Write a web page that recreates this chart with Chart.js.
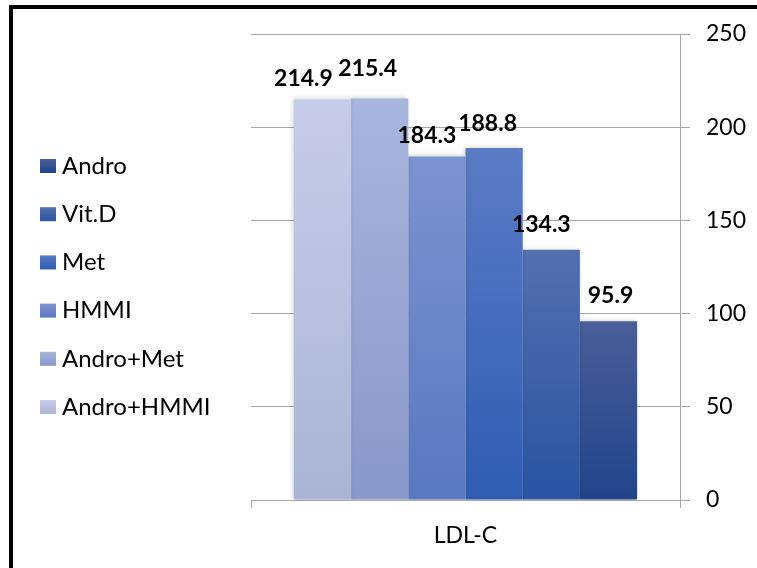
<!DOCTYPE html>
<html>
<head>
<meta charset="utf-8">
<script src="https://cdn.jsdelivr.net/npm/chart.js@4.4.1/dist/chart.umd.min.js"></script>
<style>
  html, body { margin: 0; padding: 0; background: #ffffff; }
  #wrap { position: relative; width: 757px; height: 568px; overflow: hidden; background: #fff; }
  #c { position: absolute; left: 0; top: 0; }
  #frame { position: absolute; left: 9px; top: 5px; width: 780px; height: 559px; border: 4px solid #000; box-sizing: content-box; pointer-events: none; }
</style>
</head>
<body>
<div id="wrap">
  <canvas id="c" width="757" height="568"></canvas>
  <div id="frame"></div>
</div>
<script>
// ---- data (legend order, top to bottom) ----
const categories = ['LDL-C'];
const seriesNames = ['Andro', 'Vit.D', 'Met', 'HMMI', 'Andro+Met', 'Andro+HMMI'];
const seriesValues = [95.9, 134.3, 188.8, 184.3, 215.4, 214.9];
const yTickValues = [0, 50, 100, 150, 200, 250];

// ---- styling (same order as seriesNames) ----
const topColors    = ['#4a5e98', '#546fae', '#5b7bc5', '#7b93d0', '#a8b5dd', '#c7cde8'];
const bottomColors = ['#21448a', '#2954a1', '#2e5db2', '#5a78c0', '#8898c9', '#aab4d4'];
const labelNudgeX  = [2, -10, -6.5, -10, -12, -19];
const labelGapY    = [18, 18, 17, 13, 22, 13];
const FONT = 'Lato, "Open Sans", "Liberation Sans", sans-serif';
const gridGray = '#a6a6a6';

function barGradient(ctx, i) {
  const chart = ctx.chart;
  const y = chart.scales && chart.scales.y;
  if (!chart.chartArea || !y) return topColors[i];
  const top = y.getPixelForValue(seriesValues[i]);
  const bot = y.getPixelForValue(0);
  const g = chart.ctx.createLinearGradient(0, top, 0, bot);
  g.addColorStop(0, topColors[i]);
  g.addColorStop(1, bottomColors[i]);
  return g;
}

// bars are drawn right-to-left in legend order (Excel reversed series order)
const drawOrder = seriesNames.map((_, i) => i).reverse();
const datasets = drawOrder.map((i) => ({
  label: seriesNames[i],
  data: [seriesValues[i]],
  seriesIndex: i,
  backgroundColor: (ctx) => barGradient(ctx, i),
  borderWidth: 0,
  barPercentage: 1.0,
  categoryPercentage: 0.8
}));

const decorPlugin = {
  id: 'decor',
  beforeDatasetsDraw(chart) {
    const ctx = chart.ctx;
    ctx.save();
    ctx.shadowColor = 'rgba(0,0,0,0.22)';
    ctx.shadowBlur = 5;
    ctx.shadowOffsetX = -1;
    ctx.shadowOffsetY = 0;
  },
  afterDatasetsDraw(chart) {
    const ctx = chart.ctx;
    ctx.restore();
    // data labels
    ctx.save();
    ctx.font = 'bold 23px ' + FONT;
    ctx.fillStyle = '#000';
    ctx.textAlign = 'center';
    ctx.textBaseline = 'alphabetic';
    chart.data.datasets.forEach((ds, k) => {
      const i = ds.seriesIndex;
      const meta = chart.getDatasetMeta(k);
      meta.data.forEach((el, j) => {
        ctx.fillText(ds.data[j].toFixed(1), el.x + labelNudgeX[i], el.y - labelGapY[i]);
      });
    });
    ctx.restore();
  },
  afterDraw(chart) {
    // legend
    const ctx = chart.ctx;
    ctx.save();
    const x0 = 40, startY = 166, step = 48.2, bw = 16, bh = 14;
    ctx.font = '24px ' + FONT;
    ctx.textAlign = 'left';
    ctx.textBaseline = 'middle';
    seriesNames.forEach((name, i) => {
      const cy = startY + i * step;
      const g = ctx.createLinearGradient(0, cy - bh / 2, 0, cy + bh / 2);
      g.addColorStop(0, topColors[i]);
      g.addColorStop(1, bottomColors[i]);
      ctx.fillStyle = g;
      ctx.fillRect(x0, cy - bh / 2, bw, bh);
      ctx.fillStyle = '#000';
      ctx.fillText(name, 62, cy);
    });
    ctx.restore();
  }
};

new Chart(document.getElementById('c'), {
  type: 'bar',
  data: { labels: categories, datasets },
  options: {
    responsive: false,
    devicePixelRatio: 1,
    animation: false,
    layout: { padding: { left: 251, top: 34, right: 0, bottom: 0 } },
    plugins: {
      legend: { display: false },
      tooltip: { enabled: false }
    },
    scales: {
      x: {
        type: 'category',
        offset: true,
        grid: { offset: true, drawOnChartArea: false, drawTicks: true, tickLength: 8, color: gridGray, lineWidth: 1 },
        border: { display: true, color: gridGray, width: 1 },
        ticks: { font: { family: FONT, size: 23 }, color: '#000', padding: 14 },
        afterFit(scale) { scale.height = 68; }
      },
      y: {
        position: 'right',
        min: 0,
        max: 250,
        afterBuildTicks(scale) { scale.ticks = yTickValues.map(v => ({ value: v })); },
        grid: { color: gridGray, lineWidth: 1, drawTicks: true, tickLength: 10 },
        border: { display: true, color: gridGray, width: 1 },
        ticks: { font: { family: FONT, size: 23 }, color: '#000', padding: 16, callback: (v) => String(v) },
        afterFit(scale) { scale.width = 77; }
      }
    }
  },
  plugins: [decorPlugin]
});
</script>
</body>
</html>
